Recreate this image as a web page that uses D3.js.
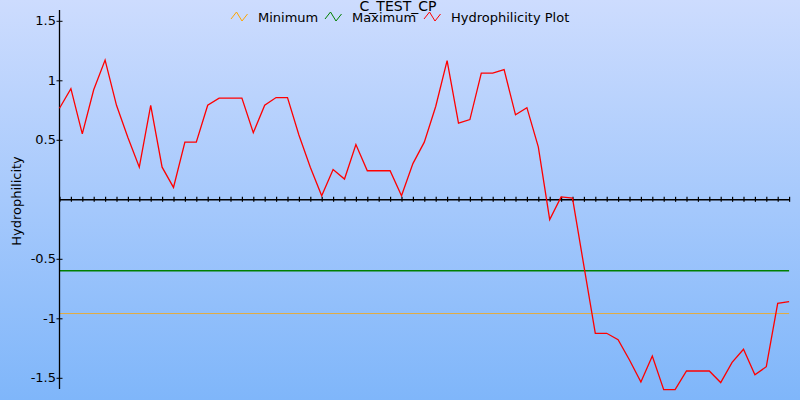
<!DOCTYPE html>
<html>
<head>
<meta charset="utf-8">
<script src="https://cdn.jsdelivr.net/npm/d3@7"></script>
<style>
  html, body { margin: 0; padding: 0; }
  svg { display: block; font-family: "DejaVu Sans", Verdana, sans-serif; }
</style>
</head>
<body>
<svg id="chart" width="800" height="400"></svg>
<script>
// ---- data ----
const chartTitle = "C_TEST_CP";
const yAxisTitle = "Hydrophilicity";
const seriesNames = ["Minimum", "Maximum", "Hydrophilicity Plot"];
const minimumValue = -0.96;
const maximumValue = -0.6;
const hydrophilicity = [
  0.765, 0.93, 0.55, 0.92, 1.17, 0.79, 0.52, 0.27, 0.79, 0.27,
  0.10, 0.48, 0.48, 0.79, 0.85, 0.85, 0.85, 0.56, 0.79, 0.855,
  0.855, 0.54, 0.27, 0.03, 0.25, 0.17, 0.46, 0.24, 0.24, 0.24,
  0.03, 0.30, 0.48, 0.78, 1.165, 0.64, 0.67, 1.06, 1.06, 1.09,
  0.71, 0.77, 0.44, -0.17, 0.02, 0.01, -0.56, -1.126, -1.126, -1.18,
  -1.35, -1.535, -1.317, -1.60, -1.60, -1.443, -1.443, -1.443, -1.54, -1.37,
  -1.26, -1.474, -1.407, -0.874, -0.86
];
const yTickValues = [-1.5, -1, -0.5, 0.5, 1, 1.5];
const seriesColors = ["#ffa500", "#008000", "#ff0000"];

// ---- layout ----
const W = 800, H = 400;
const svg = d3.select("#chart");

const defs = svg.append("defs");
const grad = defs.append("linearGradient").attr("id", "bg")
  .attr("x1", 0).attr("y1", 0).attr("x2", 0).attr("y2", 1);
grad.append("stop").attr("offset", "0%").attr("stop-color", "#cddcfe");
grad.append("stop").attr("offset", "100%").attr("stop-color", "#7fb6fa");
svg.append("rect").attr("width", W).attr("height", H).attr("fill", "url(#bg)");

const x = d3.scaleLinear().domain([0, hydrophilicity.length - 1]).range([59.5, 789.1]);
const y = d3.scaleLinear().domain([-1.6, 1.6]).range([389.7, 8.9]);

// minimum / maximum reference lines
svg.append("line")
  .attr("x1", x(0)).attr("x2", x(hydrophilicity.length - 1))
  .attr("y1", y(minimumValue)).attr("y2", y(minimumValue))
  .attr("stroke", seriesColors[0]).attr("stroke-width", 1).attr("stroke-opacity", 0.75);
svg.append("line")
  .attr("x1", x(0)).attr("x2", x(hydrophilicity.length - 1))
  .attr("y1", y(maximumValue)).attr("y2", y(maximumValue))
  .attr("stroke", seriesColors[1]).attr("stroke-width", 1.4);

// x axis at y = 0 (ticks only)
const xAxis = d3.axisBottom(x)
  .tickValues(d3.range(hydrophilicity.length))
  .tickSize(2.5).tickSizeOuter(0).tickFormat("");
const gx = svg.append("g").attr("transform", `translate(0,${y(0)})`).call(xAxis);
gx.select(".domain").attr("stroke", "#000").attr("stroke-width", 1.5);
gx.selectAll(".tick line").attr("y1", -2.5).attr("stroke", "#000").attr("stroke-width", 1.2);

// y axis
const yAxis = d3.axisLeft(y)
  .tickValues(yTickValues)
  .tickSize(3).tickSizeOuter(0).tickPadding(0.5)
  .tickFormat(d => String(d));
const gy = svg.append("g").attr("transform", `translate(59.5,0)`).call(yAxis);
gy.select(".domain").attr("d", `M0,10V389`).attr("stroke", "#000").attr("stroke-width", 1.3);
gy.selectAll(".tick line").attr("x1", 3).attr("stroke", "#000");
gy.selectAll(".tick text").attr("font-size", 13).attr("fill", "#000")
  .attr("font-family", "DejaVu Sans");

// hydrophilicity line
const line = d3.line().x((d, i) => x(i)).y(d => y(d));
svg.append("path").datum(hydrophilicity)
  .attr("d", line).attr("fill", "none")
  .attr("stroke", seriesColors[2]).attr("stroke-width", 1.3)
  .attr("stroke-linejoin", "miter");

// y axis title
svg.append("text")
  .attr("transform", "translate(21,201) rotate(-90)")
  .attr("text-anchor", "middle").attr("font-size", 13).attr("fill", "#000")
  .text(yAxisTitle);

// title
svg.append("text").attr("x", 398).attr("y", 11)
  .attr("text-anchor", "middle").attr("font-size", 14).attr("fill", "#000")
  .text(chartTitle);

// legend
const legendX = [231, 325, 424];
const icon = d3.line();
const legend = svg.append("g");
seriesNames.forEach((name, i) => {
  const gx0 = legendX[i];
  legend.append("path")
    .attr("d", icon([[gx0, 19], [gx0 + 5.5, 12], [gx0 + 11, 21], [gx0 + 16.5, 14]]))
    .attr("fill", "none").attr("stroke", seriesColors[i]).attr("stroke-width", 1);
  legend.append("text").attr("x", gx0 + 27).attr("y", 22)
    .attr("font-size", 13).attr("fill", "#000").text(name);
});
</script>
</body>
</html>
